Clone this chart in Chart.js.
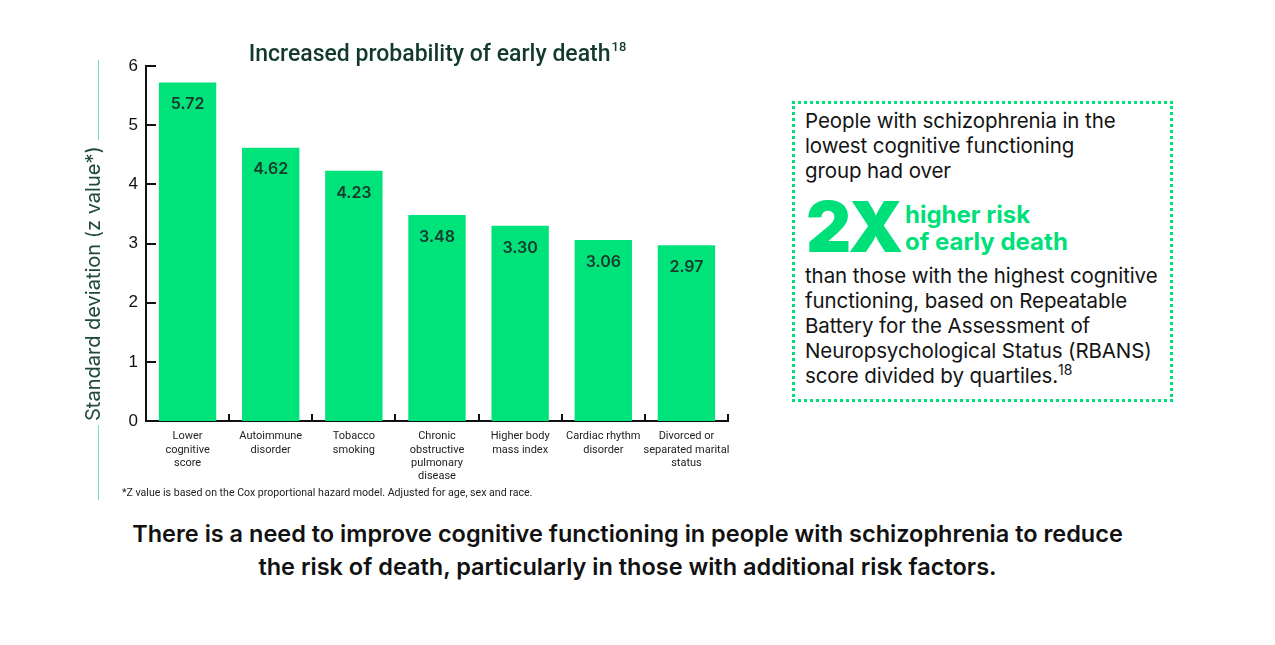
<!DOCTYPE html>
<html>
<head>
<meta charset="utf-8">
<script src="https://cdn.jsdelivr.net/npm/chart.js@4"></script>
<style>
  body { margin: 0; width: 1275px; height: 645px; background: #fff; position: relative; overflow: hidden; font-family: Inter, "Noto Sans", sans-serif; }
  #wrap { position: absolute; left: 0; top: 0; width: 760px; height: 500px; }
  .vline { position: absolute; left: 98px; width: 1px; background: #6fe3a8; }
  #foot { position: absolute; left: 122px; top: 486px; font-size: 10.6px; color: #222; font-family: Roboto, sans-serif; }
  #panel { position: absolute; left: 792px; top: 101px; width: 375px; height: 295px; border: 3px dotted #00e07a; box-sizing: content-box; }
  #panel .txt { position: absolute; left: 10px; font-size: 20.5px; line-height: 25px; color: #141414; letter-spacing: -0.1px; white-space: nowrap; }
  #big { position: absolute; left: 11px; top: 88px; font-size: 70px; font-weight: 900; color: #00e07a; line-height: 70px; letter-spacing: -3px; }
  #risk { position: absolute; left: 110px; top: 97px; font-size: 24px; font-weight: 700; color: #00e07a; line-height: 27px; white-space: nowrap; }
  #bottom { position: absolute; left: 0; width: 1255px; top: 517px; text-align: center; font-size: 23.5px; font-weight: 600; line-height: 33px; color: #111; white-space: nowrap; }
</style>
</head>
<body>
<div id="wrap"><canvas id="chart"></canvas></div>
<div class="vline" style="top:60px;height:80px"></div>
<div class="vline" style="top:425px;height:75px"></div>
<div id="foot">*Z value is based on the Cox proportional hazard model. Adjusted for age, sex and race.</div>
<div id="panel">
  <div class="txt" style="top:4px">People with schizophrenia in the<br>lowest cognitive functioning<br>group had over</div>
  <div id="big">2X</div>
  <div id="risk">higher risk<br>of early death</div>
  <div class="txt" style="top:159px">than those with the highest cognitive<br>functioning, based on Repeatable<br>Battery for the Assessment of<br>Neuropsychological Status (RBANS)<br>score divided by quartiles.<sup style="font-size:14px;line-height:0">18</sup></div>
</div>
<div id="bottom">There is a need to improve cognitive functioning in people with schizophrenia to reduce<br>the risk of death, particularly in those with additional risk factors.</div>
<script>
const categories = [
  ['Lower', 'cognitive', 'score'],
  ['Autoimmune', 'disorder'],
  ['Tobacco', 'smoking'],
  ['Chronic', 'obstructive', 'pulmonary', 'disease'],
  ['Higher body', 'mass index'],
  ['Cardiac rhythm', 'disorder'],
  ['Divorced or', 'separated marital', 'status']
];
const zValues = [5.72, 4.62, 4.23, 3.48, 3.30, 3.06, 2.97];
const yTicks = [0, 1, 2, 3, 4, 5, 6];

const green = '#00e37b';
const dark = '#173a2d';

// ticks drawn inward, bar labels and title
const extras = {
  id: 'extras',
  afterDatasetsDraw(chart) {
    const ctx = chart.ctx;
    const x = chart.scales.x, y = chart.scales.y;
    const area = chart.chartArea;
    ctx.save();
    ctx.strokeStyle = '#111';
    ctx.lineWidth = 2;
    yTicks.forEach(v => {
      const py = Math.round(y.getPixelForValue(v));
      ctx.beginPath();
      ctx.moveTo(area.left, py);
      ctx.lineTo(area.left + 10, py);
      ctx.stroke();
    });
    const half = (x.getPixelForValue(1) - x.getPixelForValue(0)) / 2;
    categories.forEach((c, i) => {
      const px = Math.round(x.getPixelForValue(i) + half);
      ctx.beginPath();
      ctx.moveTo(px, area.bottom);
      ctx.lineTo(px, area.bottom - 7);
      ctx.stroke();
    });
    // value labels
    ctx.fillStyle = dark;
    ctx.font = '600 16px Inter, sans-serif';
    ctx.textAlign = 'center';
    ctx.textBaseline = 'middle';
    chart.getDatasetMeta(0).data.forEach((bar, i) => {
      ctx.fillText(zValues[i].toFixed(2), bar.x, bar.y + 22);
    });
    // title
    const title = 'Increased probability of early death';
    ctx.font = '500 23px Roboto, sans-serif';
    const w = ctx.measureText(title).width;
    ctx.font = '500 13px Roboto, sans-serif';
    const ws = ctx.measureText('18').width;
    const cx = (area.left + area.right) / 2;
    const sx = cx - (w + ws) / 2;
    ctx.textAlign = 'left';
    ctx.textBaseline = 'alphabetic';
    ctx.fillStyle = '#123a2a';
    ctx.font = '500 23px Roboto, sans-serif';
    ctx.fillText(title, sx, 61);
    ctx.font = '500 13px Roboto, sans-serif';
    ctx.fillText('18', sx + w + 1, 51);
    ctx.restore();
  }
};

new Chart(document.getElementById('chart'), {
  type: 'bar',
  data: {
    labels: categories,
    datasets: [{
      data: zValues,
      backgroundColor: green,
      barPercentage: 0.69,
      categoryPercentage: 1
    }]
  },
  options: {
    responsive: true,
    maintainAspectRatio: false,
    animation: false,
    layout: { padding: { left: 79, top: 66, right: 32, bottom: 0 } },
    plugins: { legend: { display: false }, tooltip: { enabled: false } },
    scales: {
      x: {
        grid: { display: false },
        border: { color: '#111', width: 2 },
        ticks: {
          color: '#222',
          font: { family: 'Roboto, sans-serif', size: 11, lineHeight: 1.2 },
          padding: 1,
          maxRotation: 0,
          autoSkip: false
        },
        afterFit(s) { s.height = 79; }
      },
      y: {
        min: 0,
        max: 6,
        grid: { display: false },
        border: { color: '#111', width: 2 },
        ticks: {
          stepSize: 1,
          color: '#111',
          font: { family: '"Liberation Sans", Arial, sans-serif', size: 17 },
          padding: 0
        },
        title: {
          display: true,
          text: 'Standard deviation (z value*)',
          align: 'start',
          color: '#1f4a3a',
          font: { family: 'Inter, sans-serif', size: 20 },
          padding: { top: 3, bottom: 0 }
        },
        afterFit(s) { s.width = 67; }
      }
    }
  },
  plugins: [extras]
});
</script>
</body>
</html>
